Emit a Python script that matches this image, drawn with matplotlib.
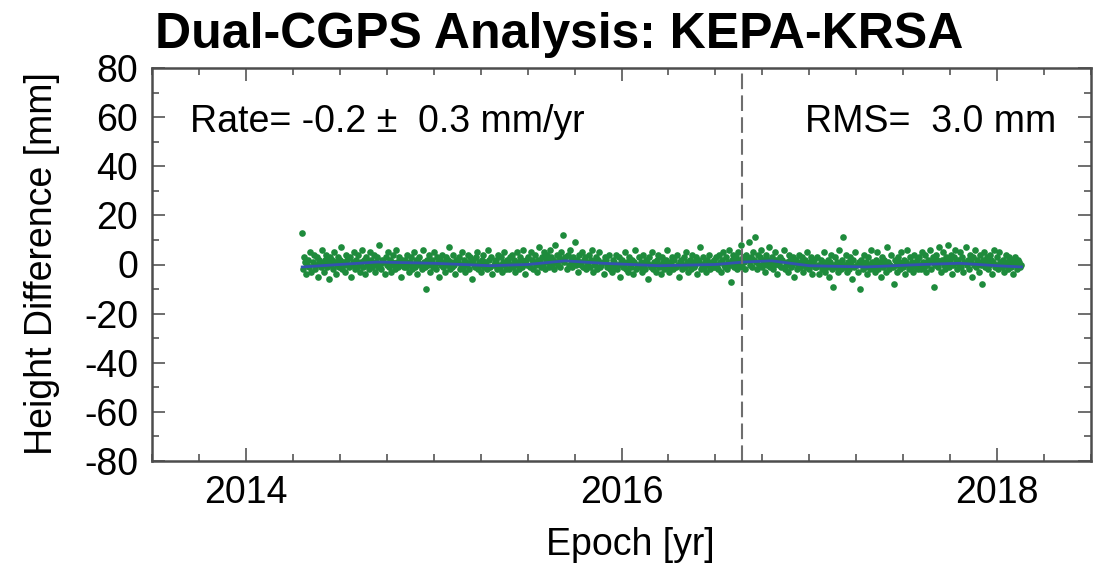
import numpy as np
import matplotlib.pyplot as plt
from matplotlib.ticker import MultipleLocator

# Height differences [mm], one value every 2 days starting 2014.30
h1 = [13, -2, 3, 1, -4, 0, 2, -1, 5, -3, 1, 4, -2, 0, 3, -5, 2, 1, -1, 6, 0, -3, 2, 4, -1,
      1, -6, 3, 0, 2, -2, 5, 1, -4, 0, 3, -1, 2, 7, -2, 1, 0, -3, 4, 2, -1, 3, -5, 0, 1,
      5, -2, 2, -1, 4, 0, -3, 1, 6, -1, 2, -4, 3, 0, 1, -2, 5, 2, -1, 0, 4, -3, 1, 3, -1,
      8, 0, -2, 2, 1, -4, 3, 0, 5, -1, 2, -3, 1, 4, 0, -2, 6, 1, -1, 3, 0, -5, 2, 1, -1]
h2 = [2, -1, 4, 0, -3, 1, 3, -2, 0, 5, -1, 2, -4, 1, 3, 0, -2, 6, 1, -1, -10, 2, 0, 4, -3,
      1, 2, -1, 5, 0, -2, 3, 1, -5, 2, 0, 4, -1, 1, -3, 3, 0, 2, 7, -2, 1, -1, 4, 0, -4,
      2, 1, 3, -2, 0, 5, -1, 2, -3, 1, 0, 4, -2, 3, 1, -6, 2, 0, -1, 3, 5, -2, 1, 0, -3,
      2, 4, -1, 1, 0, -2, 6, 2, -1, 3, -4, 0, 1, 2, -2, 4, 0, -1, 3, -3, 1, 5, 0, -2, 2]
h3 = [1, -2, 3, 0, 4, -1, 2, -3, 1, 5, 0, -2, 3, 2, -1, 6, 1, -4, 2, 0, 3, -1, 5, 2, -2,
      1, 4, 0, -3, 2, 7, 1, -1, 3, 0, 5, -2, 2, 4, 1, -1, 6, 3, 0, 2, -2, 8, 1, 4, 0,
      3, -1, 5, 2, 12, 1, 3, -2, 4, 0, 6, 2, -1, 3, 1, 9, 0, 2, -3, 4, 1, 0, 5, -1, 2,
      3, -2, 1, 0, 4, -1, 2, 6, -3, 1, 0, 3, -2, 2, 5, -1, 0, 1, -4, 3, 2, -1, 0, 4, -2]
h4 = [0, -3, 2, 1, -1, 4, -2, 0, 3, -5, 1, 2, -1, 0, 5, -2, 1, -3, 3, 0, -1, 2, -4, 1, 6,
      -2, 0, 3, -1, 1, -3, 4, 0, -2, 2, 1, -6, 3, 0, -1, 5, -2, 1, 0, -3, 2, 4, -1, 0, -4,
      3, 1, -2, 0, 2, 6, -1, -3, 1, 0, 3, -2, 2, -1, 4, 0, -5, 1, 2, -2, 0, 3, -1, 5, 1,
      -3, 0, 2, -2, 4, 1, -1, 0, 3, -4, 2, 1, 7, -2, 0, 3, -1, 1, -3, 2, 0, 4, -2, 1, -1]
h5 = [2, -1, 3, 0, -2, 4, 1, -3, 2, 5, 0, -1, 3, -2, 1, 6, 0, -7, 2, 4, -1, 1, 3, -2, 5,
      0, 2, 8, -1, 3, 1, -2, 4, 2, 9, 0, 3, -1, 5, 2, 11, 1, -2, 4, 0, 3, 6, -1, 2, 1,
      -3, 4, 0, 2, 7, -1, 1, 3, -2, 0, 5, 2, -4, 1, 0, 3, -1, 2, 6, -2, 0, 1, -3, 4, 2,
      -1, 0, 3, -5, 1, 2, -2, 0, 4, -1, 1, 3, -3, 0, 2, -1, 5, 0, -2, 1, 3, -4, 0, 2, -1]
h6 = [-1, 3, 0, -4, 2, -2, 1, 5, -3, 0, -1, 2, -5, 1, 4, -2, -9, 0, 3, -1, 1, -3, 6, 0, -2,
      2, 11, -1, 0, 4, -3, 1, -2, 3, 0, -6, 2, -1, 5, 0, -3, 1, -10, 2, 0, -2, 4, -1, 1, -4,
      3, 0, -2, 6, 1, -1, 0, -3, 2, 5, -2, 0, 1, -5, 3, -1, 2, 0, -3, 7, 1, -2, 0, 4, -1,
      -8, 2, 0, -3, 3, 1, -2, 5, 0, -1, 2, -4, 1, 6, 0, -2, 3, -1, 1, -3, 4, 0, -1, 2, -2]
h7 = [3, 0, -2, 5, 1, -1, 4, -3, 0, 2, 6, -2, 1, 3, -9, 0, 4, 2, -1, 7, 1, -3, 2, 5, 0,
      -2, 3, 1, 8, -1, 2, 4, -4, 0, 3, 6, 1, -2, 2, 0, 5, -1, 3, -3, 1, 7, 0, 2, -2, 4,
      1, -5, 3, 0, 6, -1, 2, 1, -3, 4, 0, -8, 2, 5, -1, 1, 3, -2, 0, 4, 2, -4, 1, 6, -1,
      0, 3, -2, 5, 1, -1, 2, -3, 0, 4, 1, -2, 3, 0, -1, 2, -4, 1, 3, 0, -2, 2, 1, -1, 0]

t_start = 2014.30
step_days = 2

# smoothed curve (blue)
smooth_t = [2014.30, 2014.5, 2014.7, 2015.0, 2015.3, 2015.5, 2015.7, 2015.9, 2016.2,
            2016.5, 2016.65, 2016.8, 2017.0, 2017.3, 2017.6, 2017.8, 2018.0, 2018.13]
smooth_h = [-1.0, 0.0, 1.0, 0.5, -0.5, 0.0, 1.5, 0.5, -0.5,
            0.0, 1.0, 1.5, -0.5, -1.0, 0.0, 0.5, -0.5, -1.0]

break_epoch = 2016.64
rate_text = "Rate= -0.2 \u00b1  0.3 mm/yr"
rms_text = "RMS=  3.0 mm"

heights = np.array(h1 + h2 + h3 + h4 + h5 + h6 + h7, dtype=float)
epochs = t_start + np.arange(len(heights)) * step_days / 365.25

plt.rcParams['font.family'] = ['Liberation Sans', 'DejaVu Sans']
plt.rcParams['axes.unicode_minus'] = False

W, H = 1099, 565
fig = plt.figure(figsize=(W / 100, H / 100), dpi=100)
ax = fig.add_axes([152 / W, 1 - 461 / H, (1091 - 152) / W, (461 - 68) / H])

ax.plot(epochs, heights, 'o', ms=4.8, color='#1e8b3c', mec='none')
ax.plot(smooth_t, smooth_h, color='#3352b0', lw=2.0)
ax.axvline(break_epoch, color='#6e6e6e', lw=1.5, dashes=(7.5, 3))

ax.set_xlim(2013.5, 2018.5)
ax.set_ylim(-80, 80)
ax.xaxis.set_major_locator(MultipleLocator(2))
ax.xaxis.set_minor_locator(MultipleLocator(0.25))
ax.yaxis.set_major_locator(MultipleLocator(20))
ax.yaxis.set_minor_locator(MultipleLocator(10))
ax.tick_params(which='both', direction='in', top=True, right=True,
               color='#555555', width=1.2, labelsize=27, pad=10)
ax.tick_params(which='major', length=9.5)
ax.tick_params(which='minor', length=5)
for s in ax.spines.values():
    s.set_linewidth(1.8)
    s.set_color('#4d4d4d')

fig.text(155 / W, 1 - 48 / H, "Dual-CGPS Analysis: KEPA-KRSA", fontsize=36,
         fontweight='bold', va='baseline', ha='left')
fig.text(42 / W, 1 - 264 / H, "Height Difference [mm]", fontsize=27,
         rotation=90, ha='center', va='center')
fig.text(630 / W, 1 - 545 / H, "Epoch [yr]", fontsize=27, ha='center', va='center')
fig.text(190 / W, 1 - 132 / H, rate_text, fontsize=27, va='baseline', ha='left')
fig.text(1056 / W, 1 - 132 / H, rms_text, fontsize=27, va='baseline', ha='right')

fig.savefig('out.png', dpi=100)
